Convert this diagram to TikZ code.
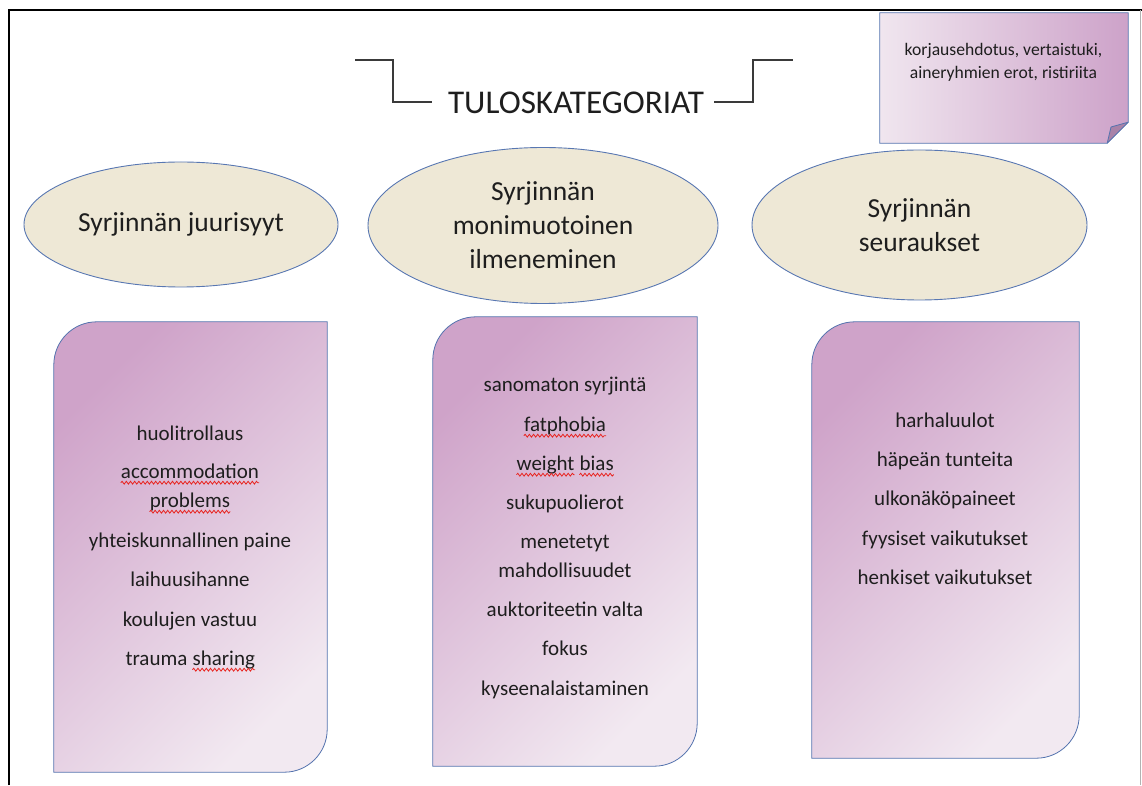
\documentclass[tikz,border=0pt]{standalone}
\usepackage{fontspec}
\setmainfont{Carlito}
\usetikzlibrary{shapes.geometric,decorations.pathmorphing}
\definecolor{spellred}{HTML}{E8231E}
\definecolor{txt}{HTML}{1E1E1E}
\definecolor{ellfill}{HTML}{EEE8D6}
\definecolor{ellblue}{HTML}{5877B2}
\definecolor{cardblue}{HTML}{5473AE}
\definecolor{carddark}{HTML}{CFA3C9}
\definecolor{cardlight}{HTML}{F2E9F1}
\definecolor{notedark}{HTML}{CDA2C9}
\definecolor{notelight}{HTML}{F0E6EF}
\definecolor{folddark}{HTML}{A982A8}
\definecolor{bracket}{HTML}{3A3A3A}
\newcommand\cardoutline[2]{% #1 node name, #2 radius
  \shade[cardshade] ([yshift=-#2]#1.north west) arc[start angle=180,end angle=90,radius=#2]
    -- (#1.north east) -- ([yshift=#2]#1.south east) arc[start angle=0,end angle=-90,radius=#2]
    -- (#1.south west) -- cycle;}
\newcommand\squig[1]{\draw[squiggle] (#1.south west) -- (#1.south east);}
\tikzset{
  bubble/.style={ellipse, draw=ellblue, fill=ellfill, line width=0.9pt, inner sep=0pt,
    align=center, font=\fontsize{27.5}{34}\selectfont, text=txt},
  cardframe/.style={rectangle, inner sep=0pt, draw=none},
  cardshade/.style={draw=cardblue, line width=0.8pt, top color=carddark, bottom color=cardlight, shading angle=45},
  item/.style={font=\fontsize{21}{25}\selectfont, text=txt, inner sep=0pt, text height=15pt, text depth=4pt},
  squiggle/.style={draw=spellred, line width=0.8pt, decorate,
    decoration={snake, segment length=4.2pt, amplitude=1.4pt}},
  notetext/.style={align=center, font=\fontsize{17.6}{22.5}\selectfont, text=txt},
  titletext/.style={font=\fontsize{33.2}{38}\selectfont, text=txt},
  bracketline/.style={draw=bracket, line width=1.1pt},
}
\begin{document}
\begin{tikzpicture}[x=1pt,y=1pt]
\useasboundingbox (0,0) rectangle (1142,785);
% page frame
\coordinate (fl) at (9,0);
\coordinate (ftl) at (9,775);
\coordinate (ftr) at (1142,775);
\coordinate (frt) at (1140.5,775);
\coordinate (frb) at (1140.5,0);
\draw[black, line width=2pt] (fl) -- (ftl) -- (ftr);
\draw[black!30, line width=1.5pt] (frt) -- (frb);

% title
\node[titletext] (title) at (576,682.5) {TULOSKATEGORIAT};
\coordinate (bl1) at (355,725);
\coordinate (bl2) at (393,725);
\coordinate (bl3) at (393,683);
\coordinate (bl4) at (432,683);
\coordinate (br1) at (714,683);
\coordinate (br2) at (753,683);
\coordinate (br3) at (753,725);
\coordinate (br4) at (793,725);
\draw[bracketline] (bl1) -- (bl2) -- (bl3) -- (bl4);
\draw[bracketline] (br1) -- (br2) -- (br3) -- (br4);

% note
\node[cardframe, minimum width=248, minimum height=130] (note) at (1004,707) {};
\shade[draw=cardblue, line width=0.8pt, left color=notelight, right color=notedark]
  (note.north west) -- (note.north east) -- ([yshift=21pt]note.south east)
  -- ([xshift=-21pt]note.south east) -- (note.south west) -- cycle;
\coordinate (fold) at (1111,658);
\filldraw[draw=cardblue, fill=folddark, line width=0.8pt, line join=round]
  ([xshift=-21pt]note.south east) -- ([yshift=21pt]note.south east) -- (fold) -- cycle;
\node[notetext] (notetxt) at (1003.5,722.5) {korjausehdotus, vertaistuki,\\aineryhmien erot, ristiriita};

% ellipses
\node[bubble, minimum width=314, minimum height=125] (e1) at (181,560.5) {Syrjinnän juurisyyt};
\node[bubble, minimum width=350, minimum height=156] (e2) at (543,559.5) {Syrjinnän\\monimuotoinen\\ilmeneminen};
\node[bubble, minimum width=335, minimum height=150] (e3) at (919.5,560) {Syrjinnän\\seuraukset};

% cards
\node[cardframe, minimum width=273, minimum height=450] (c1) at (190.5,238) {};
\node[cardframe, minimum width=264, minimum height=449] (c2) at (565,243.5) {};
\node[cardframe, minimum width=267, minimum height=436] (c3) at (945.5,245) {};
\cardoutline{c1}{43pt}
\cardoutline{c2}{43pt}
\cardoutline{c3}{43pt}

% card 1 texts
\node[item] (a1) at (190,350) {huolitrollaus};
\node[item] (a2) at (190,312) {accommodation};
\node[item] (a3) at (190,283) {problems};
\node[item] (a4) at (190,243) {yhteiskunnallinen paine};
\node[item] (a5) at (190,204) {laihuusihanne};
\node[item] (a6) at (190,164) {koulujen vastuu};
\node[item, anchor=east] (a7) at (187.6,125) {trauma};
\node[item, anchor=west] (a8) at (192.4,125) {sharing};
\squig{a2}
\squig{a3}
\squig{a8}

% card 2 texts
\node[item] (b1) at (565,399) {sanomaton syrjintä};
\node[item] (b2) at (565,359) {fatphobia};
\node[item, anchor=east] (b3) at (574.7,320) {weight};
\node[item, anchor=west] (b4) at (579.4,320) {bias};
\node[item] (b5) at (565,281) {sukupuolierot};
\node[item] (b6) at (565,242) {menetetyt};
\node[item] (b7) at (565,213) {mahdollisuudet};
\node[item] (b8) at (565,174) {auktoriteetin valta};
\node[item] (b9) at (565,135) {fokus};
\node[item] (b10) at (565,95) {kyseenalaistaminen};
\squig{b2}
\squig{b3}
\squig{b4}

% card 3 texts
\node[item] (d1) at (945,363) {harhaluulot};
\node[item] (d2) at (945,324) {häpeän tunteita};
\node[item] (d3) at (945,285) {ulkonäköpaineet};
\node[item] (d4) at (945,245) {fyysiset vaikutukset};
\node[item] (d5) at (945,206) {henkiset vaikutukset};
\end{tikzpicture}
\end{document}
